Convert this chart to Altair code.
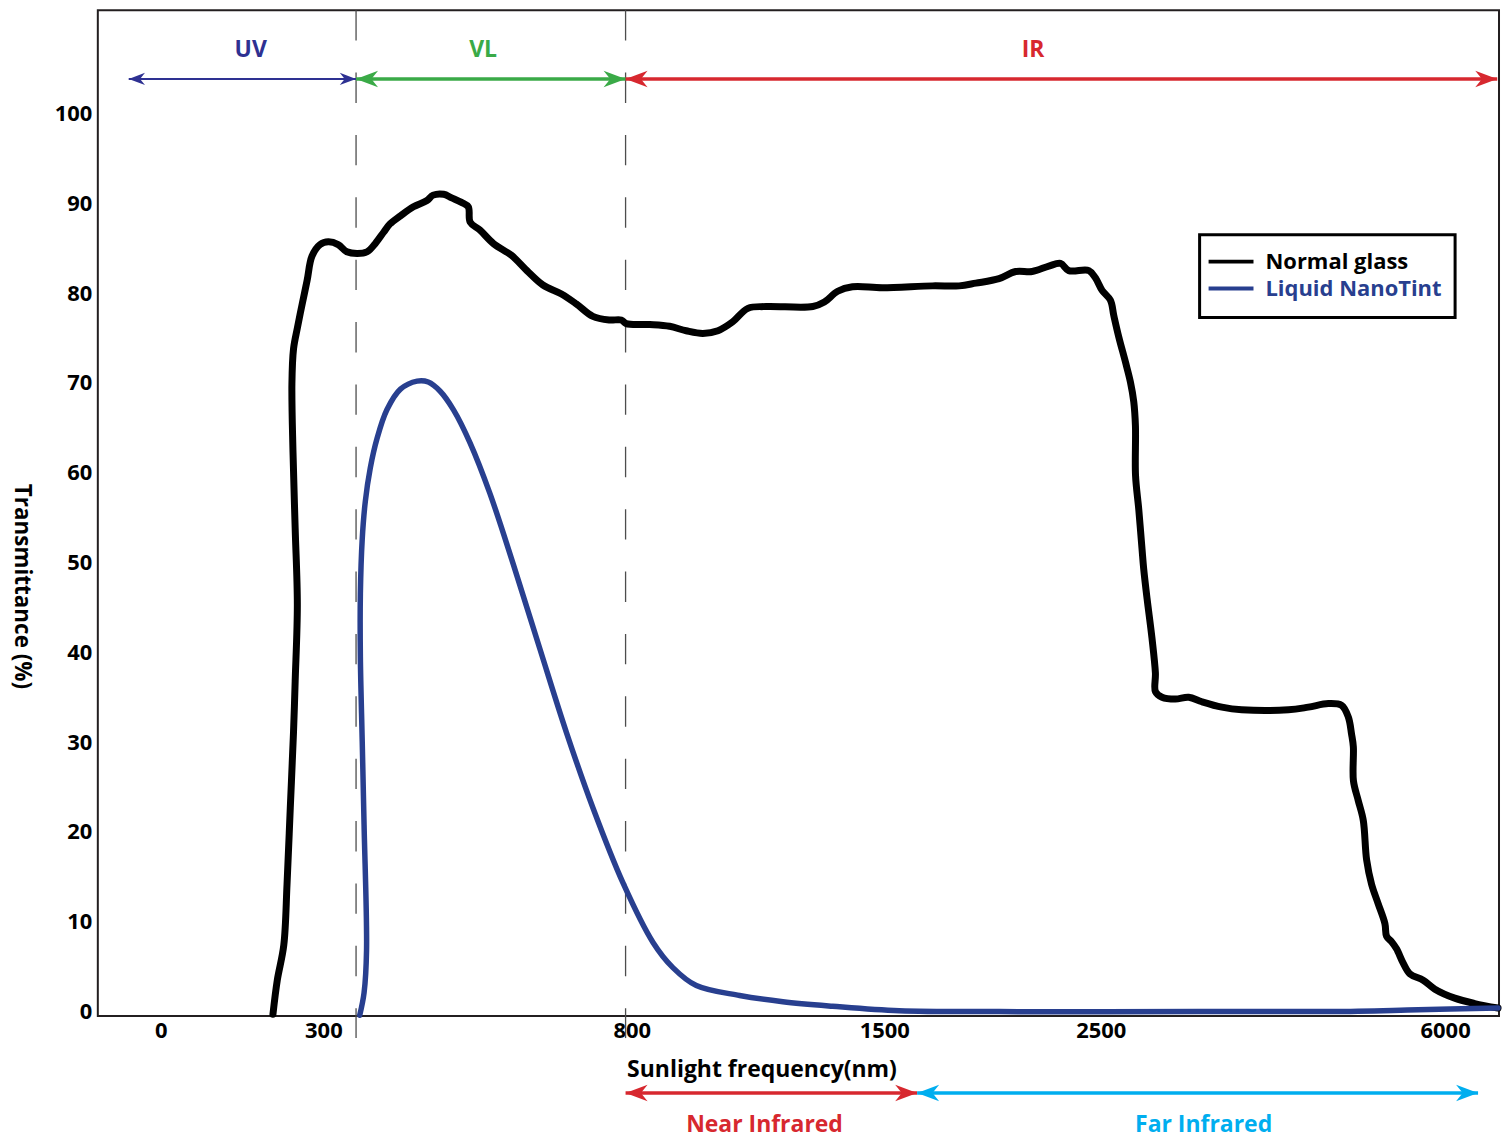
import altair as alt
import pandas as pd

FONT = "Open Sans"

# ---- axis ticks ----
x_ticks = [0, 300, 800, 1500, 2500, 6000]
y_ticks = [0, 10, 20, 30, 40, 50, 60, 70, 80, 90, 100]

# ---- Normal glass transmittance (wavelength nm, %) ----
normal_nm = [207, 215, 227, 233, 239, 245, 248, 252, 248, 244,
             242, 245, 252, 261, 270, 279, 294, 308, 324, 338,
             355, 371, 384, 398, 408, 425, 446, 468, 478, 495,
             508, 524, 535, 538, 554, 576, 605, 630, 656, 686,
             710, 737, 764, 783, 791, 850, 905, 951, 997, 1039,
             1080, 1122, 1173, 1302, 1334, 1371, 1412, 1495, 1723, 1846,
             1923, 2030, 2107, 2183, 2260, 2314, 2352, 2445, 2475, 2513,
             2598, 2632, 2683, 2751, 2801, 2835, 2852, 2853, 2886, 2919,
             2936, 2970, 3020, 3055, 3056, 3122, 3258, 3393, 3528, 3731,
             3933, 4407, 4610, 4813, 4948, 5016, 5049, 5067, 5068, 5117,
             5168, 5202, 5252, 5320, 5388, 5405, 5455, 5506, 5574, 5642,
             5777, 5896, 6098, 6301, 6538]
normal_pct = [-0.3, 3.5, 7.4, 14.2, 22.7, 31.2, 36.8, 45.3, 53.8, 62.3,
              69.9, 73.8, 76.1, 78.8, 81.4, 84.1, 85.4, 85.7, 85.4, 84.6,
              84.4, 84.6, 85.5, 86.8, 87.7, 88.6, 89.6, 90.3, 90.9, 91.0,
              90.6, 90.1, 89.6, 87.9, 87.0, 85.5, 84.2, 82.5, 80.9, 79.9,
              78.8, 77.4, 77.0, 77.0, 76.6, 76.5, 76.3, 75.8, 75.5, 75.8,
              76.8, 78.3, 78.5, 78.5, 79.0, 80.2, 80.7, 80.6, 80.8, 80.8,
              81.1, 81.6, 82.4, 82.4, 83.0, 83.3, 82.5, 82.5, 81.7, 80.3,
              79.2, 77.5, 75.1, 72.3, 70.1, 67.9, 65.2, 59.7, 55.9, 51.5,
              49.3, 46.0, 41.6, 37.7, 35.6, 35.0, 34.8, 35.0, 34.5, 33.9,
              33.6, 33.6, 33.9, 34.3, 34.1, 32.8, 30.9, 29.5, 25.7, 23.5,
              21.3, 16.9, 14.2, 12.0, 9.8, 8.4, 7.8, 7.0, 5.4, 4.2,
              3.5, 2.5, 1.5, 0.9, 0.4]

# ---- Liquid NanoTint transmittance (wavelength nm, %) ----
tint_nm = [359, 366, 370, 366, 363, 360, 360, 363, 368, 376,
           387, 403, 425, 452, 470, 489, 511, 538, 570, 608,
           651, 694, 737, 786, 859, 914, 979, 1099, 1219, 1357,
           1569, 2030, 3494, 4847, 5726, 6538]
tint_pct = [-0.4, 2.1, 6.8, 20.8, 30.1, 39.5, 46.5, 52.6, 56.8, 60.5,
            63.8, 67.0, 69.3, 70.2, 70.1, 69.1, 67.0, 63.3, 57.7, 49.8,
            40.4, 31.1, 22.7, 14.3, 7.7, 4.9, 2.9, 1.8, 1.1, 0.6,
            0.1, 0.0, 0.0, 0.0, 0.2, 0.4]

# ---- spectral bands ----
boundary_nm = [353, 790]
arrow_names = ["UV", "VL", "IR", "Near Infrared", "Far Infrared"]
arrow_start = [-59, 353, 790, 790, 1652]
arrow_end = [353, 790, 6530, 1652, 6335]
arrow_label_at = [166, 559, 2187, 1168, 3545]
arrow_tier = ["top", "top", "top", "bottom", "bottom"]
arrow_colors = ["#2e3192", "#3aaa47", "#d7282f", "#d7282f", "#00aeef"]

legend_labels = ["Normal glass", "Liquid NanoTint"]
legend_colors = ["#000000", "#283f8f"]

normal = pd.DataFrame({"nm": normal_nm, "pct": normal_pct, "i": list(range(len(normal_nm)))})
tint = pd.DataFrame({"nm": tint_nm, "pct": tint_pct, "i": list(range(len(tint_nm)))})
arrows = pd.DataFrame({"name": arrow_names, "start": arrow_start, "end": arrow_end,
                       "label_at": arrow_label_at, "tier": arrow_tier})
bounds = pd.DataFrame({"nm": boundary_nm})
legend_df = pd.DataFrame({"label": legend_labels})

# broken (piecewise) wavelength axis
x_scale = alt.Scale(domain=[-116, 0, 300, 800, 1500, 2500, 6000, 6548],
                    range=[0, 63, 226, 535, 788, 1005, 1350, 1404],
                    nice=False, zero=False)
y_scale = alt.Scale(domain=[-0.5, 111.5], nice=False, zero=False)

x_axis = alt.Axis(values=x_ticks, format="d", title="Sunlight frequency(nm)",
                  titleX=665, titleY=54, titleAlign="center", titleBaseline="middle",
                  titleFont=FONT, titleFontSize=23, titleFontWeight="bold", titleColor="#000",
                  labelFont=FONT, labelFontSize=22, labelFontWeight="bold", labelColor="#000",
                  labelPadding=4, labelFlush=False, labelOverlap=False,
                  ticks=False, domain=False, grid=False)
y_axis = alt.Axis(values=y_ticks, format="d", title="Transmittance (%)",
                  titleAngle=90, titleX=-76, titleY=577, titleAlign="center", titleBaseline="middle",
                  titleFont=FONT, titleFontSize=22.5, titleFontWeight="bold", titleColor="#000",
                  labelFont=FONT, labelFontSize=22, labelFontWeight="bold", labelColor="#000",
                  labelPadding=6, labelOverlap=False, ticks=False, domain=False, grid=False)

arrow_color = alt.Color("name:N", scale=alt.Scale(domain=arrow_names, range=arrow_colors), legend=None)
RIGHT = "M0,0L-2.15,-0.81L-1.5,0L-2.15,0.81Z"
LEFT = "M0,0L2.15,-0.81L1.5,0L2.15,0.81Z"

layers = []

# dashed band boundaries
layers.append(
    alt.Chart(bounds).mark_rule(color="#4d4d4d", strokeWidth=1.3, strokeDash=[30.5, 32]).encode(
        x=alt.X("nm:Q", scale=x_scale, axis=x_axis),
        y=alt.value(0), y2=alt.value(1030))
)

# curves
layers.append(
    alt.Chart(normal).mark_line(color="#000000", strokeWidth=7, strokeJoin="round", strokeCap="round",
                                interpolate="catmull-rom").encode(
        x=alt.X("nm:Q", scale=x_scale, axis=x_axis),
        y=alt.Y("pct:Q", scale=y_scale, axis=y_axis),
        order="i:Q")
)
layers.append(
    alt.Chart(tint).mark_line(color=legend_colors[1], strokeWidth=5.5, strokeJoin="round", strokeCap="round",
                              interpolate="catmull-rom").encode(
        x=alt.X("nm:Q", scale=x_scale, axis=x_axis),
        y=alt.Y("pct:Q", scale=y_scale, axis=y_axis),
        order="i:Q")
)

# band arrows and labels
for tier, ay, ly in [("top", 69, 40), ("bottom", 1085, 1117)]:
    base = alt.Chart(arrows).transform_filter(alt.datum.tier == tier)
    layers.append(base.mark_rule(strokeCap="butt").encode(
        x=alt.X("start:Q", scale=x_scale, axis=x_axis), x2="end:Q",
        y=alt.value(ay), color=arrow_color,
        strokeWidth=alt.condition(alt.datum.name == "UV", alt.value(2), alt.value(3.4))))
    layers.append(base.mark_point(shape=RIGHT, filled=True, opacity=1, strokeWidth=0).encode(
        x=alt.X("end:Q", scale=x_scale, axis=x_axis), y=alt.value(ay), color=arrow_color,
        size=alt.condition(alt.datum.name == "UV", alt.value(230), alt.value(420))))
    layers.append(base.mark_point(shape=LEFT, filled=True, opacity=1, strokeWidth=0).encode(
        x=alt.X("start:Q", scale=x_scale, axis=x_axis), y=alt.value(ay), color=arrow_color,
        size=alt.condition(alt.datum.name == "UV", alt.value(230), alt.value(420))))
    layers.append(base.mark_text(font=FONT, fontSize=23, fontWeight="bold", align="center",
                                 baseline="middle").encode(
        x=alt.X("label_at:Q", scale=x_scale, axis=x_axis), y=alt.value(ly),
        text="name:N", color=arrow_color))

# legend box
layers.append(
    alt.Chart(legend_df).transform_filter(alt.datum.label == legend_labels[0])
    .mark_rect(fill="white", stroke="#000000", strokeWidth=3).encode(
        x=alt.value(1104), x2=alt.value(1360), y=alt.value(225), y2=alt.value(308))
)
for lab, col, ly in zip(legend_labels, legend_colors, [252, 279]):
    sub = alt.Chart(legend_df).transform_filter(alt.datum.label == lab)
    layers.append(sub.mark_rule(color=col, strokeWidth=4).encode(
        x=alt.value(1113), x2=alt.value(1158), y=alt.value(ly)))
    layers.append(sub.mark_text(align="left", baseline="middle", font=FONT, fontSize=22,
                                fontWeight="bold", color=col).encode(
        x=alt.value(1170), y=alt.value(ly), text="label:N"))

chart = alt.layer(*layers).properties(
    width=1404, height=1008,
    padding={"left": 2, "top": 0, "right": 0, "bottom": 0},
).configure_view(stroke="#231f20", strokeWidth=2)

chart.save("out.html", embed_options={"renderer": "svg", "actions": False})
